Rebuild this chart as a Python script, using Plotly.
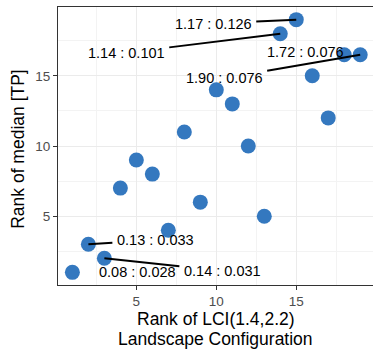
import plotly.graph_objects as go

# Rank of LCI(1.4,2.2) vs rank of median TP for each landscape configuration
lci_rank = [1, 2, 3, 4, 5, 6, 7, 8, 9, 10, 11, 12, 13, 14, 15, 16, 17, 18, 19]
tp_rank = [1, 3, 2, 7, 9, 8, 4, 11, 6, 14, 13, 10, 5, 18, 19, 15, 12, 16.5, 16.5]

# Labelled points: "LCI : median TP"
label_idx = [14, 13, 17, 18, 1, 2, 0]
label_text = ["1.17 : 0.126", "1.14 : 0.101", "1.72 : 0.076", "1.90 : 0.076",
              "0.13 : 0.033", "0.14 : 0.031", "0.08 : 0.028"]

x_ticks = [5, 10, 15]
y_ticks = [5, 10, 15]
x_title = ["Rank of LCI(1.4,2.2)", "Landscape Configuration"]
y_title = "Rank of median [TP]"

# label placement (pixel offsets of the text centre from its point) and leader-line flag
label_offsets = [(-83, 4), (-154, 19), (-39, -3), (-136, 23.5),
                 (67, -4.3), (118, 12.3), (65, -0.7)]
label_segment = [True, True, False, True, True, True, False]

FONT = "Liberation Sans, Arial"

fig = go.Figure()
fig.add_trace(go.Scatter(
    x=lci_rank, y=tp_rank, mode="markers",
    marker=dict(size=15, color="#3478BF", line=dict(width=0)),
    showlegend=False, hoverinfo="skip",
))

for i, txt, (dx, dy), seg in zip(label_idx, label_text, label_offsets, label_segment):
    if seg:
        fig.add_annotation(
            x=lci_rank[i], y=tp_rank[i], text=txt,
            showarrow=True, arrowhead=0, arrowwidth=2, arrowcolor="black",
            ax=dx, ay=dy, standoff=0, startstandoff=3,
            font=dict(size=14.5, color="black", family=FONT),
        )
    else:
        fig.add_annotation(
            x=lci_rank[i], y=tp_rank[i], text=txt, showarrow=False,
            xshift=dx, yshift=-dy,
            font=dict(size=14.5, color="black", family=FONT),
        )

# axis titles (x title on two lines)
for line, ypos in zip(x_title, [-0.1223, -0.1942]):
    fig.add_annotation(
        xref="paper", yref="paper", x=0.5, y=ypos, yanchor="middle", showarrow=False,
        text=line, font=dict(size=17.5, color="black", family=FONT),
    )
fig.add_annotation(
    xref="paper", yref="paper", x=-0.165, y=0.49, showarrow=False, textangle=-90,
    text=y_title, font=dict(size=17.5, color="black", family=FONT),
)

axis_common = dict(
    showgrid=True, gridcolor="#EBEBEB", gridwidth=1.1,
    minor=dict(showgrid=True, gridcolor="#F3F3F3", gridwidth=0.6, dtick=5, tick0=2.5),
    showline=True, linecolor="#333333", linewidth=1.2,
    ticks="outside", ticklen=4, tickcolor="#333333", tickwidth=1.1,
    tickfont=dict(size=13.5, color="#4D4D4D", family=FONT),
    zeroline=False,
)

fig.update_xaxes(range=[0.1, 19.8], tickvals=x_ticks, mirror=True, **axis_common)
fig.update_yaxes(range=[0.1, 19.9], tickvals=y_ticks, mirror=False, **axis_common)

fig.update_layout(
    width=373, height=350,
    margin=dict(l=58, r=0, t=7, b=65),
    plot_bgcolor="white", paper_bgcolor="white",
    font=dict(family=FONT),
)

fig.write_html("out.html")
